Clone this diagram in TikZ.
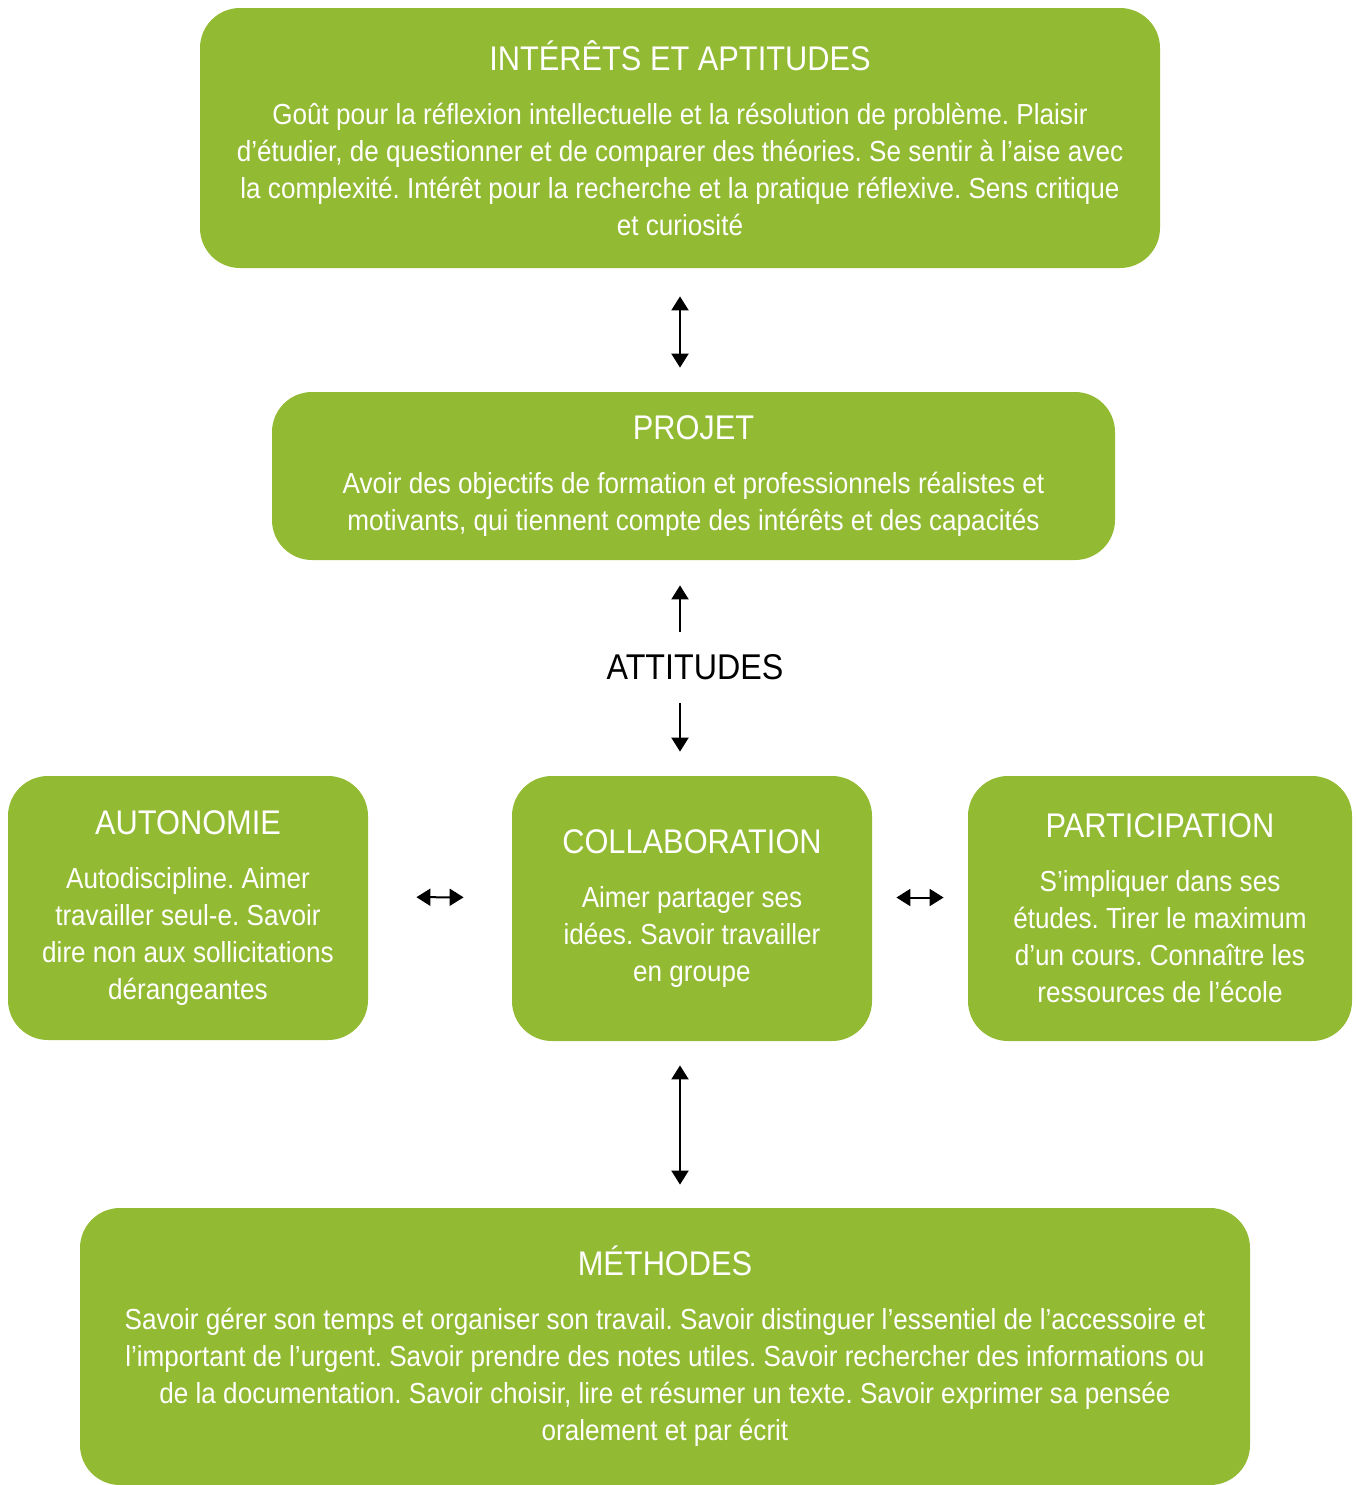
\documentclass[tikz,border=0pt]{standalone}
\usepackage{fontspec}
\setmainfont{Liberation Sans}[FakeStretch=0.9]
\usepackage{xcolor}
\usepackage{tikz}
\usetikzlibrary{calc,arrows.meta}
\definecolor{leaf}{HTML}{93BA33}
\definecolor{ink}{HTML}{000000}
\tikzset{
  card/.style={fill=leaf, rounded corners=20pt, text=white, align=center,
    inner sep=0pt, font=\fontsize{14.5}{18.5}\selectfont},
  link/.style={draw=ink, line width=1pt, {Triangle[width=8.5pt,length=7pt]}-{Triangle[width=8.5pt,length=7pt]}},
  uplink/.style={draw=ink, line width=1pt, -{Triangle[width=8.5pt,length=7pt]}},
  lab/.style={text=ink, font=\fontsize{17.9}{20}\selectfont},
}
\newcommand{\cardtitle}[1]{{\fontsize{17.1}{20}\selectfont #1}\\[8.5pt]}
\frenchspacing

\begin{document}
\begin{tikzpicture}[x=0.5pt,y=-0.5pt]
  \useasboundingbox (0,0) rectangle (1356,1485);
  \coordinate (axis) at (680,0);

  \node[card, minimum width=480pt, minimum height=130pt] (interets) at (680,138)
    {\cardtitle{INTÉRÊTS ET APTITUDES}
     Goût pour la réflexion intellectuelle et la résolution de problème. Plaisir\\
     d’étudier, de questionner et de comparer des théories. Se sentir à l’aise avec\\
     la complexité. Intérêt pour la recherche et la pratique réflexive. Sens critique\\
     et curiosité};
  \node[card, minimum width=421.5pt, minimum height=84pt] (projet) at (693.5,476)
    {\cardtitle{PROJET}
     Avoir des objectifs de formation et professionnels réalistes et\\
     motivants, qui tiennent compte des intérêts et des capacités};
  \node[lab] (attitudes) at (695,667) {ATTITUDES};

  \node[card, minimum width=180pt, minimum height=132pt] (autonomie) at (188,908)
    {\cardtitle{AUTONOMIE}
     Autodiscipline. Aimer\\
     travailler seul-e. Savoir\\
     dire non aux sollicitations\\
     dérangeantes};
  \node[card, minimum width=180pt, minimum height=132.5pt] (collab) at (692,908.5)
    {\cardtitle{COLLABORATION}
     Aimer partager ses\\
     idées. Savoir travailler\\
     en groupe};
  \node[card, minimum width=192pt, minimum height=132.5pt] (participation) at (1160,908.5)
    {\cardtitle{PARTICIPATION}
     S’impliquer dans ses\\
     études. Tirer le maximum\\
     d’un cours. Connaître les\\
     ressources de l’école};

  \node[card, minimum width=585pt, minimum height=138.5pt] (methodes) at (665,1346.5)
    {\cardtitle{MÉTHODES}
     Savoir gérer son temps et organiser son travail. Savoir distinguer l’essentiel de l’accessoire et\\
     l’important de l’urgent. Savoir prendre des notes utiles. Savoir rechercher des informations ou\\
     de la documentation. Savoir choisir, lire et résumer un texte. Savoir exprimer sa pensée\\
     oralement et par écrit};

  % arrows
  \draw[link, shorten <=14pt, shorten >=12pt] (interets.south -| axis) -- (projet.north -| axis);
  \draw[uplink, shorten <=17.5pt, shorten >=12.5pt] (attitudes.center -| axis) -- (projet.south -| axis);
  \draw[uplink, shorten <=18pt, shorten >=12pt] (attitudes.center -| axis) -- (collab.north -| axis);
  \draw[link, shorten <=24pt, shorten >=24pt] ([yshift=5.5pt]autonomie.east) -- ([yshift=5.5pt]collab.west);
  \draw[link, shorten <=12pt, shorten >=12pt] ([yshift=5.5pt]collab.east) -- ([yshift=5.5pt]participation.west);
  \draw[link, shorten <=12pt, shorten >=11.5pt] (collab.south -| axis) -- (methodes.north -| axis);
\end{tikzpicture}
\end{document}
